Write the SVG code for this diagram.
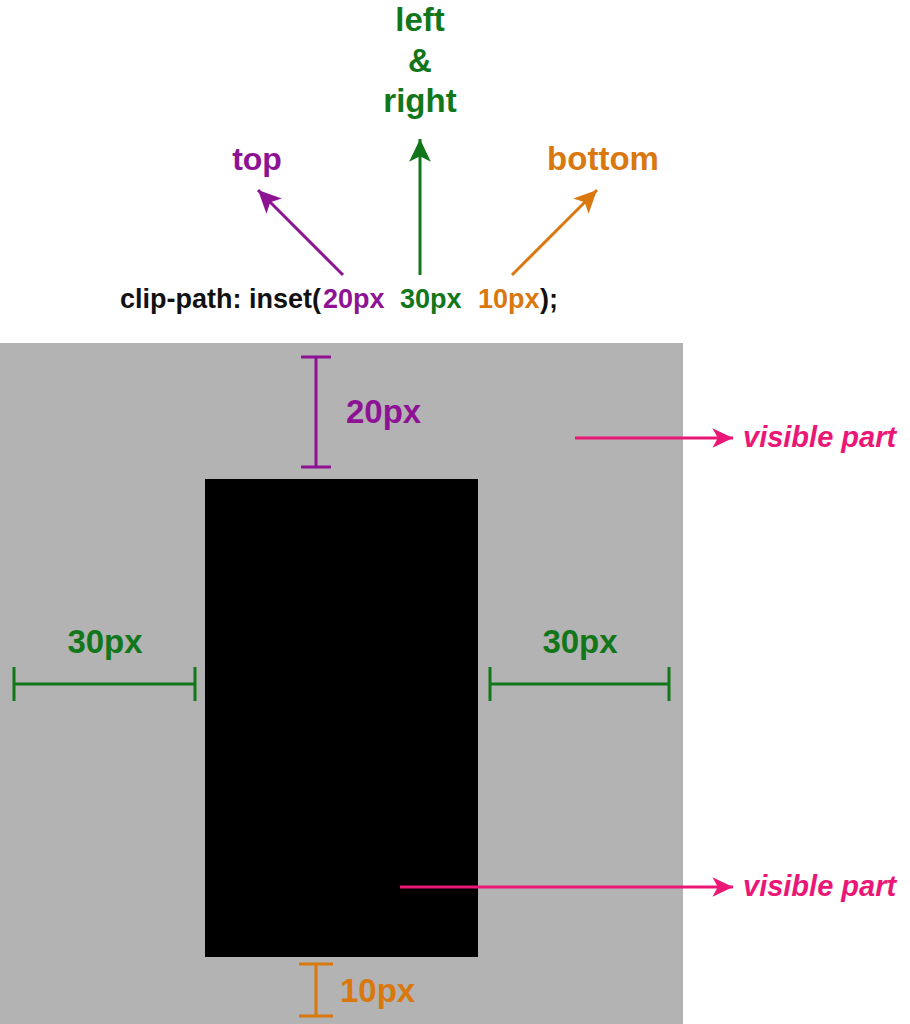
<svg xmlns="http://www.w3.org/2000/svg" width="910" height="1024" viewBox="0 0 910 1024">
<style>
  .t { font-family: "Liberation Sans", Arial, sans-serif; font-weight: bold; }
  .it { font-family: "Liberation Sans", Arial, sans-serif; font-weight: bold; font-style: italic; }
  .purple { fill: #8e1294; }
  .green { fill: #12761a; }
  .orange { fill: #d8780f; }
  .pink { fill: #ea1777; }
  .ln { fill: none; stroke-width: 3; }
  .sp { stroke: #8e1294; }
  .sg { stroke: #12761a; }
  .so { stroke: #d8780f; }
  .sk { stroke: #ea1777; }
</style>
<defs>
  <marker id="ap" markerUnits="userSpaceOnUse" markerWidth="26" markerHeight="26" viewBox="-22 -11 24 22" refX="0" refY="0" orient="auto">
    <path d="M0,0 L-21,-10 L-16,0 L-21,10 Z" fill="#8e1294"/>
  </marker>
  <marker id="ag" markerUnits="userSpaceOnUse" markerWidth="26" markerHeight="26" viewBox="-22 -11 24 22" refX="0" refY="0" orient="auto">
    <path d="M0,0 L-21,-10 L-16,0 L-21,10 Z" fill="#12761a"/>
  </marker>
  <marker id="ao" markerUnits="userSpaceOnUse" markerWidth="26" markerHeight="26" viewBox="-22 -11 24 22" refX="0" refY="0" orient="auto">
    <path d="M0,0 L-21,-10 L-16,0 L-21,10 Z" fill="#d8780f"/>
  </marker>
  <marker id="ak" markerUnits="userSpaceOnUse" markerWidth="26" markerHeight="26" viewBox="-22 -11 24 22" refX="0" refY="0" orient="auto">
    <path d="M0,0 L-19,-9 L-14,0 L-19,9 Z" fill="#ea1777"/>
  </marker>
</defs>
<rect width="910" height="1024" fill="#ffffff"/>

<g id="labels-top">
  <text class="t green" x="420" y="31" font-size="33" text-anchor="middle">left</text>
  <text class="t green" x="420" y="72" font-size="33" text-anchor="middle">&amp;</text>
  <text class="t green" x="420" y="112" font-size="33" text-anchor="middle">right</text>
  <text class="t purple" x="257" y="170" font-size="32" text-anchor="middle">top</text>
  <text class="t orange" x="603" y="170" font-size="33" text-anchor="middle">bottom</text>
</g>

<g id="code">
  <text class="t" x="120" y="308" font-size="27" fill="#111111">clip-path: inset(</text>
  <text class="t purple" x="323" y="308" font-size="27">20px</text>
  <text class="t green" x="400" y="308" font-size="27">30px</text>
  <text class="t orange" x="478" y="308" font-size="27">10px</text>
  <text class="t" x="540" y="308" font-size="27" fill="#111111">);</text>
</g>

<g id="outer-box">
  <rect x="0" y="343" width="683" height="681" fill="#b3b3b3"/>
</g>
<g id="inner-box">
  <rect x="205" y="479" width="273" height="478" fill="#000000"/>
</g>

<g id="connectors">
  <line class="ln sp" x1="343" y1="275" x2="258" y2="190" marker-end="url(#ap)"/>
  <line class="ln sg" x1="420" y1="275" x2="420" y2="139" marker-end="url(#ag)"/>
  <line class="ln so" x1="512" y1="275" x2="597" y2="190" marker-end="url(#ao)"/>
  <line class="ln sk" x1="575" y1="438" x2="733" y2="438" marker-end="url(#ak)"/>
  <line class="ln sk" x1="400" y1="887" x2="733" y2="887" marker-end="url(#ak)"/>
</g>

<g id="dim-top">
  <path class="ln sp" d="M316,357 V467 M301,357 H331 M301,467 H331"/>
  <text class="t purple" x="346" y="423" font-size="33">20px</text>
</g>

<g id="dim-left">
  <path class="ln sg" d="M14,684 H195 M14,667 V701 M195,667 V701"/>
  <text class="t green" x="105" y="653" font-size="33" text-anchor="middle">30px</text>
</g>

<g id="dim-right">
  <path class="ln sg" d="M490,684 H669 M490,667 V701 M669,667 V701"/>
  <text class="t green" x="580" y="653" font-size="33" text-anchor="middle">30px</text>
</g>

<g id="dim-bottom">
  <path class="ln so" d="M316,964 V1016 M299,964 H333 M299,1016 H333"/>
  <text class="t orange" x="340" y="1002" font-size="33">10px</text>
</g>

<g id="visible-labels">
  <text class="it pink" x="743" y="447" font-size="29">visible part</text>
  <text class="it pink" x="743" y="896" font-size="29">visible part</text>
</g>
</svg>
